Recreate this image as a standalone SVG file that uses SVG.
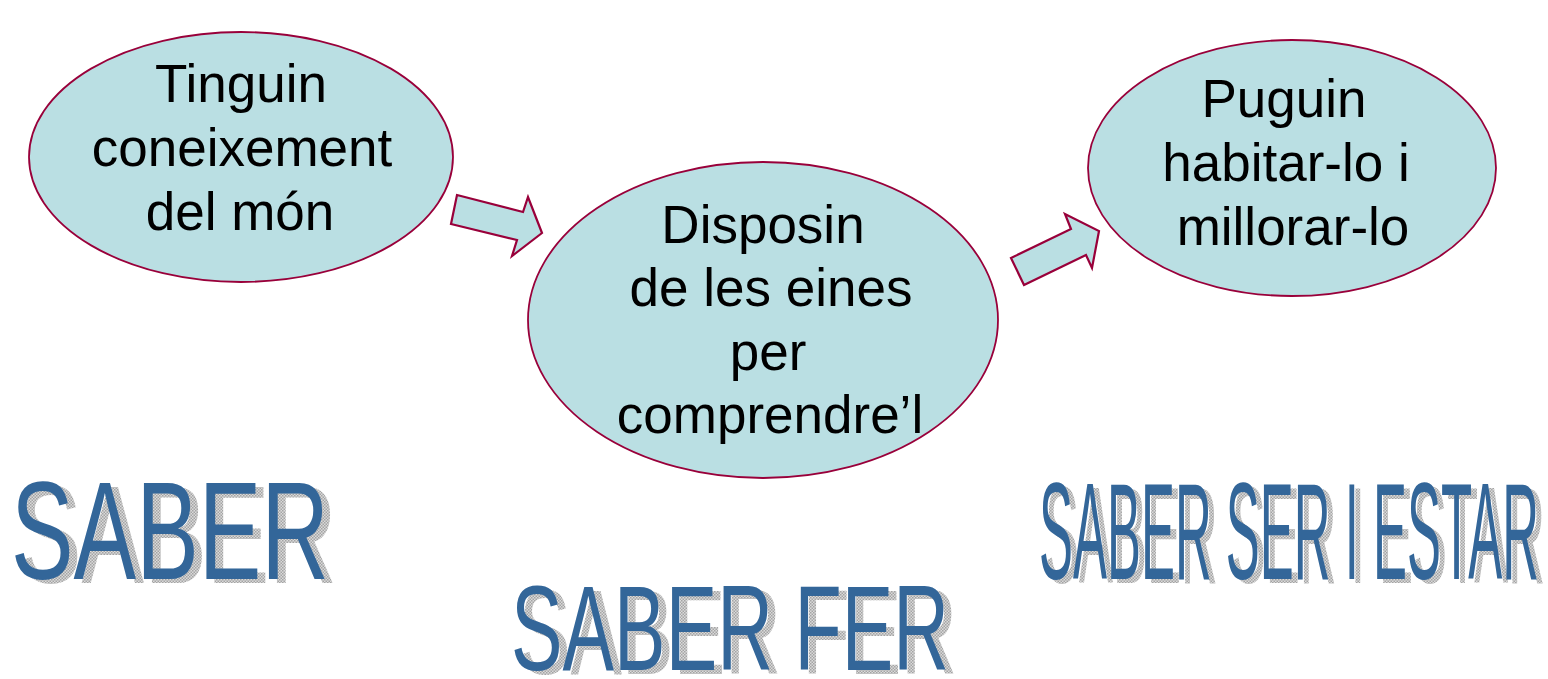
<svg xmlns="http://www.w3.org/2000/svg" width="1548" height="679" viewBox="0 0 1548 679">
<defs>
<style>
.node{fill:#badfe3;stroke:#99003a;stroke-width:1.8}
.arrow{fill:#badfe3;stroke:#99003a;stroke-width:2.2;stroke-linejoin:miter}
.lbl{font-family:"Liberation Sans",Arial,sans-serif;font-size:53px;fill:#000;text-anchor:middle}
.wa{font-family:"Liberation Sans",Arial,sans-serif;fill:#336699}
.sh{font-family:"Liberation Sans",Arial,sans-serif;fill:url(#dots)}
</style>
<pattern id="dots" width="3" height="3" patternUnits="userSpaceOnUse">
<rect width="3" height="3" fill="#dadada"/>
<rect width="1.5" height="1.5" fill="#a4a4a4"/>
<rect x="1.5" y="1.5" width="1.5" height="1.5" fill="#a4a4a4"/>
</pattern>
</defs>
<rect width="1548" height="679" fill="#fff"/>
<g id="connectors">
<polygon class="arrow" points="457,195 523,212 528,197 542,233 512,256 517,240 451,224"/>
<polygon class="arrow" points="1011,258 1024,285 1086,255 1092,268 1099,231 1065,214 1071,229"/>
</g>
<g id="node1">
<ellipse class="node" cx="241" cy="157" rx="212" ry="125"/>
<text class="lbl" x="241" y="102">Tinguin</text>
<text class="lbl" x="242" y="166">coneixement</text>
<text class="lbl" x="240" y="230">del món</text>
</g>
<g id="node2">
<ellipse class="node" cx="763" cy="320" rx="235" ry="158"/>
<text class="lbl" x="763" y="243">Disposin</text>
<text class="lbl" x="771" y="306">de les eines</text>
<text class="lbl" x="768" y="370">per</text>
<text class="lbl" x="770" y="433">comprendre’l</text>
</g>
<g id="node3">
<ellipse class="node" cx="1292" cy="168" rx="204" ry="128"/>
<text class="lbl" x="1284" y="117">Puguin</text>
<text class="lbl" x="1286" y="181">habitar-lo i</text>
<text class="lbl" x="1293" y="245">millorar-lo</text>
</g>
<g id="label-saber">
<text class="sh" x="19" y="583" font-size="140" textLength="318" lengthAdjust="spacingAndGlyphs">SABER</text>
<text class="wa" x="11" y="579" font-size="140" textLength="318" lengthAdjust="spacingAndGlyphs">SABER</text>
</g>
<g id="label-saber-fer">
<text class="sh" x="519" y="674" font-size="120" textLength="438" lengthAdjust="spacingAndGlyphs">SABER FER</text>
<text class="wa" x="511" y="670" font-size="120" textLength="438" lengthAdjust="spacingAndGlyphs">SABER FER</text>
</g>
<g id="label-saber-ser">
<text class="sh" x="1045" y="583" font-size="138" textLength="500" lengthAdjust="spacingAndGlyphs">SABER SER I ESTAR</text>
<text class="wa" x="1039" y="579" font-size="138" textLength="500" lengthAdjust="spacingAndGlyphs">SABER SER I ESTAR</text>
</g>
</svg>
